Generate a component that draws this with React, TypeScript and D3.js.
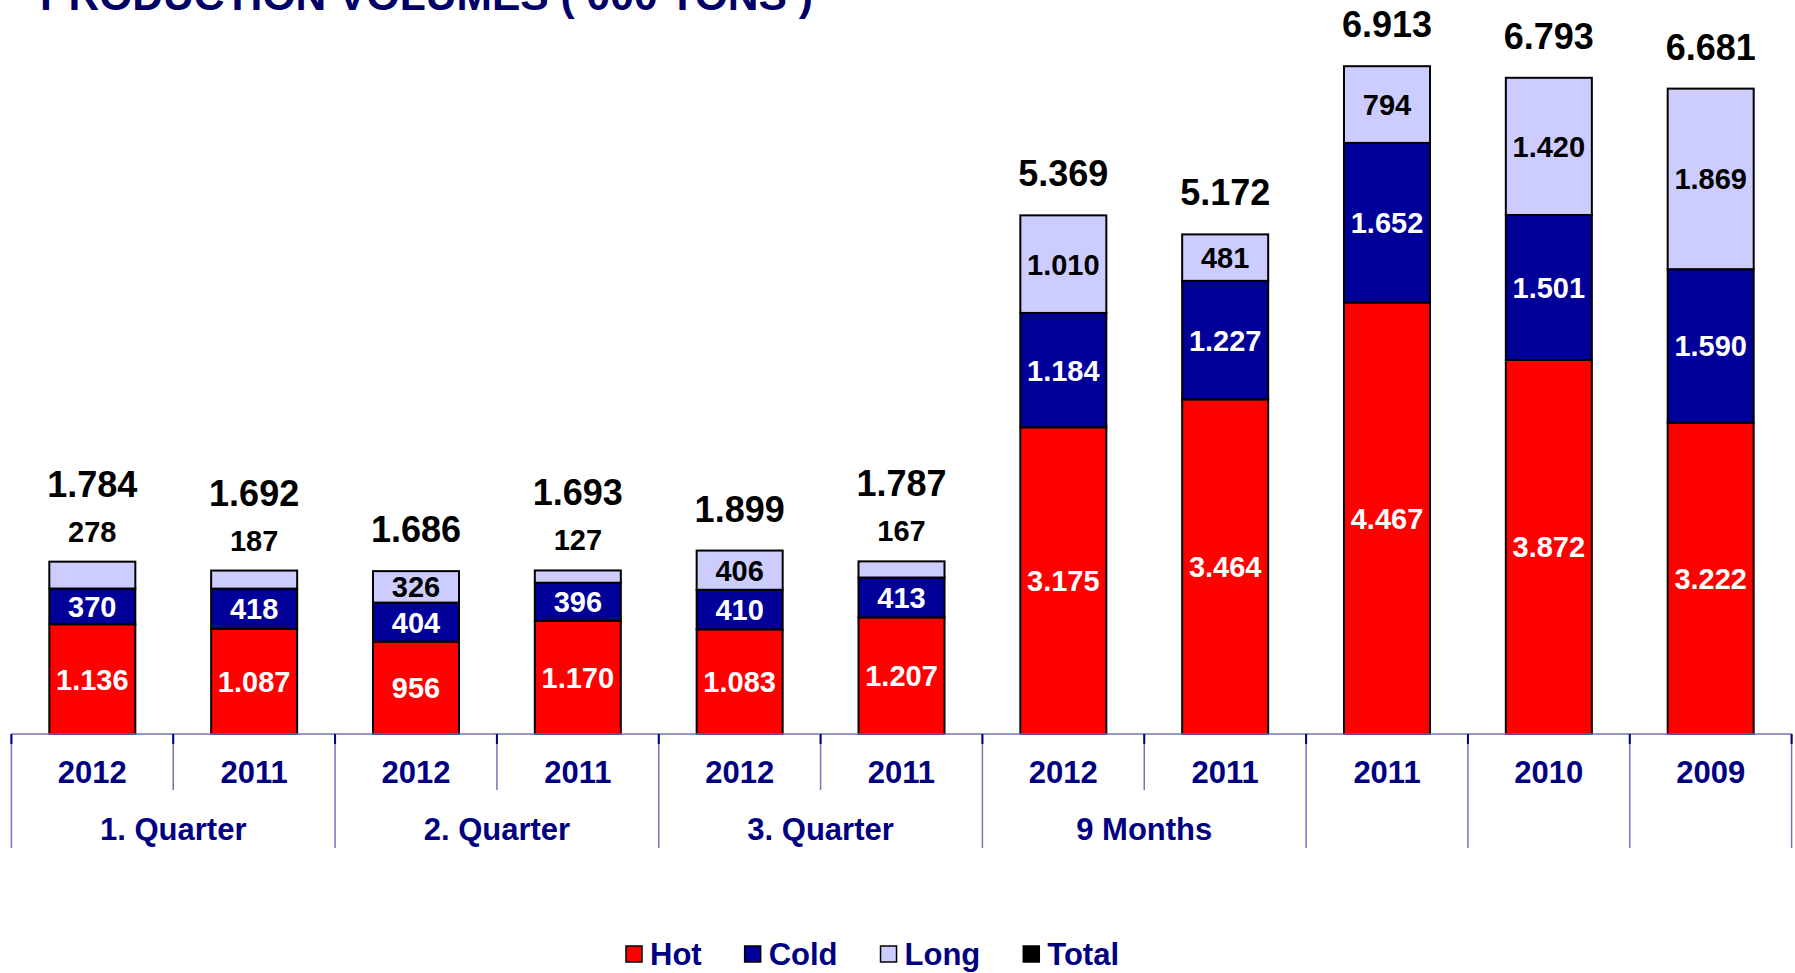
import React, { useEffect, useRef } from "react";
import * as d3 from "d3";

const categories = ["2012", "2011", "2012", "2011", "2012", "2011", "2012", "2011", "2011", "2010", "2009"];
const groupLabels = ["1. Quarter", "2. Quarter", "3. Quarter", "9 Months", "", "", ""];
const groupSizes = [2, 2, 2, 2, 1, 1, 1];
const hot = [1136, 1087, 956, 1170, 1083, 1207, 3175, 3464, 4467, 3872, 3222];
const cold = [370, 418, 404, 396, 410, 413, 1184, 1227, 1652, 1501, 1590];
const long = [278, 187, 326, 127, 406, 167, 1010, 481, 794, 1420, 1869];
const totals = [1784, 1692, 1686, 1693, 1899, 1787, 5369, 5172, 6913, 6793, 6681];
const seriesNames = ["Hot", "Cold", "Long", "Total"];
const title = "PRODUCTION VOLUMES ( 000 TONS )";

const W = 1795;
const H = 973;
const FONT = "'Liberation Sans', Arial, sans-serif";
const colors: Record<string, string> = { Hot: "#FF0000", Cold: "#000099", Long: "#CCCCFF", Total: "#000000" };
const labelColors: Record<string, string> = { Hot: "#FFFFFF", Cold: "#FFFFFF", Long: "#000000" };
const NAVY = "#000080";
const AXIS = "#7474b8";

export default function App() {
  const ref = useRef<SVGSVGElement | null>(null);

  useEffect(() => {
    const svg = d3.select(ref.current);
    svg.selectAll("*").remove();

    const fmt = d3.formatLocale({ decimal: ",", thousands: ".", grouping: [3], currency: ["", ""] }).format(",");

    const x0 = 11.4;
    const x1 = 1791.6;
    const baseY = 734;
    const x = d3
      .scaleBand<number>()
      .domain(d3.range(categories.length))
      .range([x0, x1])
      .paddingInner(0.4685)
      .paddingOuter(0.4685 / 2);
    const y = d3.scaleLinear().domain([0, 7000]).range([baseY, baseY - 7000 * 0.0966]);

    // title (cut off at the top edge, as in the reference)
    svg
      .append("text")
      .attr("x", 40)
      .attr("y", 10)
      .attr("font-family", FONT)
      .attr("font-weight", "bold")
      .attr("font-size", 42)
      .attr("fill", "#000066")
      .attr("textLength", 773)
      .attr("lengthAdjust", "spacingAndGlyphs")
      .text(title);

    const data = categories.map((c, i) => ({ i, c, Hot: hot[i], Cold: cold[i], Long: long[i], total: totals[i] }));
    const stack = d3.stack<any>().keys(["Hot", "Cold", "Long"]);
    const stacked = stack(data);

    const g = svg.append("g");
    stacked.forEach((layer) => {
      const key = layer.key;
      g.selectAll(null)
        .data(layer)
        .enter()
        .append("rect")
        .attr("x", (d: any) => x(d.data.i)!)
        .attr("width", x.bandwidth())
        .attr("y", (d: any) => y(d[1]))
        .attr("height", (d: any) => y(d[0]) - y(d[1]))
        .attr("fill", colors[key])
        .attr("stroke", "#000")
        .attr("stroke-width", 2);
    });

    // segment labels
    stacked.forEach((layer) => {
      const key = layer.key;
      layer.forEach((d: any) => {
        const v = d[1] - d[0];
        const cx = x(d.data.i)! + x.bandwidth() / 2;
        const small = key === "Long" && v < 300;
        const ty = small ? y(d[1]) - 20 : (y(d[0]) + y(d[1])) / 2;
        svg
          .append("text")
          .attr("x", cx)
          .attr("y", ty)
          .attr("dy", small ? 0 : "0.36em")
          .attr("text-anchor", "middle")
          .attr("font-family", FONT)
          .attr("font-weight", "bold")
          .attr("font-size", 29)
          .attr("fill", small ? "#000" : labelColors[key])
          .text(fmt(v));
      });
    });

    // totals
    data.forEach((d) => {
      const cx = x(d.i)! + x.bandwidth() / 2;
      const offset = d.Long < 300 ? 65 : 29;
      svg
        .append("text")
        .attr("x", cx)
        .attr("y", y(d.total) - offset)
        .attr("text-anchor", "middle")
        .attr("font-family", FONT)
        .attr("font-weight", "bold")
        .attr("font-size", 36)
        .attr("fill", "#000")
        .text(fmt(d.total));
    });

    // axis
    const step = x.step();
    svg
      .append("line")
      .attr("x1", x0)
      .attr("x2", x1)
      .attr("y1", baseY)
      .attr("y2", baseY)
      .attr("stroke", AXIS)
      .attr("stroke-width", 1.5);

    const majors = new Set<number>([0]);
    let acc = 0;
    groupSizes.forEach((s) => {
      acc += s;
      majors.add(acc);
    });
    for (let k = 0; k <= categories.length; k++) {
      const bx = x0 + k * step;
      const major = majors.has(k);
      svg
        .append("line")
        .attr("x1", bx)
        .attr("x2", bx)
        .attr("y1", baseY)
        .attr("y2", major ? 848 : 790)
        .attr("stroke", AXIS)
        .attr("stroke-width", 1.5);
      svg
        .append("line")
        .attr("x1", bx)
        .attr("x2", bx)
        .attr("y1", baseY)
        .attr("y2", baseY + 10)
        .attr("stroke", NAVY)
        .attr("stroke-width", 2);
    }

    // year labels
    categories.forEach((c, i) => {
      svg
        .append("text")
        .attr("x", x(i)! + x.bandwidth() / 2)
        .attr("y", 783)
        .attr("text-anchor", "middle")
        .attr("font-family", FONT)
        .attr("font-weight", "bold")
        .attr("font-size", 31)
        .attr("fill", NAVY)
        .text(c);
    });

    // group labels
    let start = 0;
    groupLabels.forEach((lbl, gi) => {
      const s = groupSizes[gi];
      const cx = x0 + (start + s / 2) * step;
      if (lbl) {
        svg
          .append("text")
          .attr("x", cx)
          .attr("y", 840)
          .attr("text-anchor", "middle")
          .attr("font-family", FONT)
          .attr("font-weight", "bold")
          .attr("font-size", 31)
          .attr("fill", NAVY)
          .text(lbl);
      }
      start += s;
    });

    // legend
    let lx = 626;
    const ly = 954;
    seriesNames.forEach((name) => {
      svg
        .append("rect")
        .attr("x", lx)
        .attr("y", ly - 8)
        .attr("width", 16)
        .attr("height", 16)
        .attr("fill", colors[name])
        .attr("stroke", "#000")
        .attr("stroke-width", 1.5);
      const t = svg
        .append("text")
        .attr("x", lx + 24)
        .attr("y", ly + 11)
        .attr("font-family", FONT)
        .attr("font-weight", "bold")
        .attr("font-size", 31)
        .attr("fill", NAVY)
        .text(name);
      const w = (t.node() as SVGTextElement).getComputedTextLength();
      lx += 24 + w + 43;
    });
  }, []);

  return (
    <svg
      ref={ref}
      width={W}
      height={H}
      style={{ position: "absolute", left: 0, top: 0, background: "#fff", display: "block" }}
    />
  );
}
